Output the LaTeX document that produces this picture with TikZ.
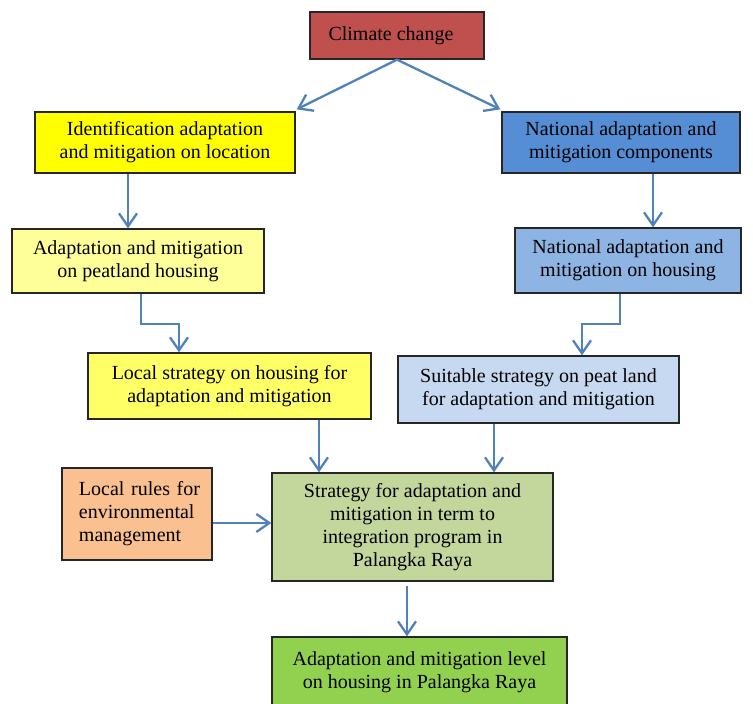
\documentclass[tikz,border=0pt]{standalone}
\usepackage{fontspec}
\setmainfont{Liberation Serif}
\usetikzlibrary{arrows.meta,calc}
\definecolor{cRed}{RGB}{192,80,77}
\definecolor{cYel}{RGB}{255,255,0}
\definecolor{cBlue}{RGB}{85,142,213}
\definecolor{cLYel}{RGB}{255,255,153}
\definecolor{cLBlue}{RGB}{142,180,227}
\definecolor{cMYel}{RGB}{255,255,102}
\definecolor{cPBlue}{RGB}{198,217,241}
\definecolor{cOrg}{RGB}{250,192,144}
\definecolor{cOlive}{RGB}{195,214,155}
\definecolor{cGreen}{RGB}{146,208,80}
\definecolor{cArr}{RGB}{79,129,189}
\tikzset{
  box/.style={draw=black!85, line width=1.3pt, inner sep=0pt, align=center,
    font=\fontsize{20}{23}\selectfont},
  arr/.style={draw=cArr, line width=2.3pt,
    -{Straight Barb[length=13pt,width=18pt,line width=2.3pt]}},
}
\begin{document}
\begin{tikzpicture}[x=1pt,y=1pt]
\useasboundingbox (0,0) rectangle (753,-704);
\node[box, fill=cRed, minimum width=174, minimum height=47] (b1) at (397,-35.5) {Climate change\hspace*{12pt}};
\node[box, fill=cYel, minimum width=260, minimum height=61] (b2) at (165,-142.5) {Identification adaptation\\and mitigation on location};
\node[box, fill=cBlue, minimum width=238, minimum height=61] (b3) at (621,-142.5) {National adaptation and\\mitigation components};
\node[box, fill=cLYel, minimum width=252, minimum height=64] (b4) at (138,-261) {Adaptation and mitigation\\on peatland housing};
\node[box, fill=cLBlue, minimum width=226, minimum height=65] (b5) at (628,-260.5) {National adaptation and\\mitigation on housing};
\node[box, fill=cMYel, minimum width=283, minimum height=66] (b6) at (229.5,-386) {Local strategy on housing for\\adaptation and mitigation};
\node[box, fill=cPBlue, minimum width=281, minimum height=67] (b7) at (538.5,-389.5) {Suitable strategy on peat land\\for adaptation and mitigation};
\node[box, fill=cOrg, minimum width=150, minimum height=92, align=left, text width=150, inner xsep=0pt] (b8) at (137,-514) {\hspace*{17pt}Local rules for\\\hspace*{17pt}environmental\\\hspace*{17pt}management};
\node[box, fill=cOlive, minimum width=281, minimum height=108] (b9) at (412.5,-527) {Strategy for adaptation and\\mitigation in term to\\integration program in\\Palangka Raya};
\node[box, fill=cGreen, minimum width=295, minimum height=70] (b10) at (419.5,-672) {Adaptation and mitigation level\\on housing in Palangka Raya};
% connectors
\draw[arr] (b1.south) -- ([shift={(1,2)}]b2.north east);
\draw[arr] (b1.south) -- ([shift={(-1,2)}]b3.north west);
\draw[arr] ([xshift=-37]b2.south) -- ([xshift=-37]b2.south |- b4.north);
\draw[arr] ([xshift=32]b3.south) -- ([xshift=32]b3.south |- b5.north);
\draw[arr] ([xshift=3]b4.south) -- ++(0,-30) -| ([xshift=-50.5]b6.north);
\draw[arr] ([xshift=-8]b5.south) -- ++(0,-30) -| ([xshift=43.5]b7.north);
\draw[arr] ([xshift=89.5]b6.south) -- ([xshift=89.5]b6.south |- b9.north);
\draw[arr] ([xshift=-44.5]b7.south) -- ([xshift=-44.5]b7.south |- b9.north);
\draw[arr] ([yshift=-9]b8.east) -- ([yshift=-9]b8.east -| b9.west);
\draw[arr, shorten <=4pt] ([xshift=-5.5]b9.south) -- ([xshift=-5.5]b9.south |- b10.north);
\end{tikzpicture}
\end{document}
